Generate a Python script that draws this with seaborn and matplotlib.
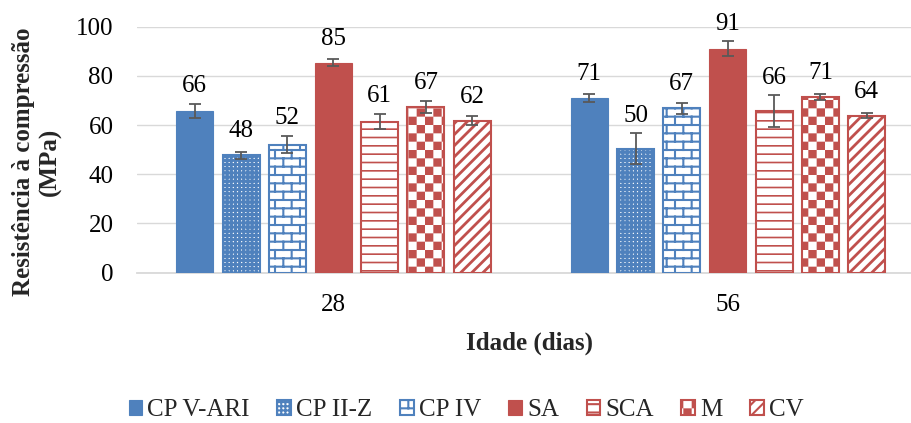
import warnings

import numpy as np
import pandas as pd
import matplotlib
matplotlib.use("Agg")
import matplotlib.pyplot as plt
import matplotlib.hatch as mhatch
from matplotlib.path import Path
import seaborn as sns

warnings.filterwarnings("ignore")

# ---- data -------------------------------------------------------------
idades = ["28", "56"]
materiais = ["CP V-ARI", "CP II-Z", "CP IV", "SA", "SCA", "M", "CV"]
res_28 = [65.7, 47.7, 52.0, 85.3, 61.4, 67.4, 61.8]
res_56 = [71.0, 50.4, 66.9, 91.0, 65.7, 71.4, 63.9]
dp_28 = [3.0, 1.5, 3.5, 1.4, 3.0, 2.5, 1.8]
dp_56 = [1.5, 6.2, 2.2, 3.0, 6.4, 1.2, 1.2]

# ---- styles -----------------------------------------------------------
AZUL = "#4F81BD"
VERMELHO = "#C0504D"
cores = [AZUL, AZUL, AZUL, VERMELHO, VERMELHO, VERMELHO, VERMELHO]
cheio = [True, False, False, True, False, False, False]
hachuras = [None, "++++", "b", None, "--", "c", "///"]
hatch_lw = [None, 2.1, 1.5, None, 1.2, 1.5, 2.0]
HATCH_LW = 1.5


# ---- extra hatch patterns: brick ("b") and checkerboard ("c") ---------
class BrickHatch(mhatch.HatchPatternBase):
    def __init__(self, hatch, density):
        n = hatch.count("b") * density
        self.rows = 2 * n
        self.cols = n
        if n:
            segs = sum(self.cols + 1 if r % 2 == 0 else self.cols
                       for r in range(self.rows))
            self.num_vertices = 2 * ((self.rows + 1) + segs)
        else:
            self.num_vertices = 0

    def set_vertices_and_codes(self, vertices, codes):
        segs = []
        for r in range(self.rows + 1):
            y = r / self.rows
            segs.append(((0.0, y), (1.0, y)))
        for r in range(self.rows):
            y0, y1 = r / self.rows, (r + 1) / self.rows
            if r % 2 == 0:
                xs = [c / self.cols for c in range(self.cols + 1)]
            else:
                xs = [(c + 0.5) / self.cols for c in range(self.cols)]
            for x in xs:
                segs.append(((x, y0), (x, y1)))
        vertices[:] = np.array(segs, dtype=float).reshape(-1, 2)
        codes[0::2] = Path.MOVETO
        codes[1::2] = Path.LINETO


class CheckerHatch(mhatch.HatchPatternBase):
    def __init__(self, hatch, density):
        n = hatch.count("c") * density
        self.cells = 2 * n
        self.squares = ([(i, j) for i in range(self.cells)
                         for j in range(self.cells) if (i + j) % 2 == 0]
                        if n else [])
        self.num_vertices = 5 * len(self.squares)

    def set_vertices_and_codes(self, vertices, codes):
        s = 1.0 / self.cells
        # the hatch outline stroke widens each square; pull the edges in
        inset = HATCH_LW / 72 / 2
        pts = []
        for i, j in self.squares:
            x0, y0 = i * s + inset, j * s + inset
            x1, y1 = (i + 1) * s - inset, (j + 1) * s - inset
            pts += [(x0, y0), (x1, y0), (x1, y1), (x0, y1), (x0, y0)]
        vertices[:] = np.array(pts, dtype=float)
        codes[:] = np.tile([Path.MOVETO, Path.LINETO, Path.LINETO,
                            Path.LINETO, Path.CLOSEPOLY], len(self.squares))


mhatch._hatch_types.extend([BrickHatch, CheckerHatch])

# ---- theme ------------------------------------------------------------
sns.set_style("white")
plt.rcParams["font.family"] = ["Liberation Serif", "DejaVu Serif"]
plt.rcParams["hatch.linewidth"] = HATCH_LW
FS = 18

df = pd.DataFrame({
    "Idade": np.repeat(idades, len(materiais)),
    "Material": materiais * len(idades),
    "Resistencia": res_28 + res_56,
})

fig = plt.figure(figsize=(9.11, 4.23), dpi=100)
ax = fig.add_axes([137 / 911, (423 - 272.7) / 423,
                   (911 - 137) / 911, (272.7 - 26.7) / 423])

sns.barplot(data=df, x="Idade", y="Resistencia", hue="Material",
            order=idades, hue_order=materiais, palette=cores,
            width=0.82, gap=0.2, errorbar=None, saturation=1,
            legend=False, ax=ax, zorder=3)

bar_conts = list(ax.containers)
erros = [dp_28, dp_56]
for i, cont in enumerate(bar_conts):
    for k, bar in enumerate(cont.patches):
        if cheio[i]:
            bar.set_facecolor(cores[i])
            bar.set_edgecolor(cores[i])
            bar.set_linewidth(0.8)
        else:
            bar.set_facecolor("white")
            bar.set_edgecolor(cores[i])
            bar.set_linewidth(1.5)
            bar.set_hatch(hachuras[i])
            if hasattr(bar, "set_hatch_linewidth"):
                bar.set_hatch_linewidth(hatch_lw[i])
        xc = bar.get_x() + bar.get_width() / 2
        h = bar.get_height()
        e = erros[k][i]
        ax.errorbar(xc, h, yerr=e, fmt="none", ecolor="#595959",
                    elinewidth=1.3, capsize=4.3, capthick=1.3, zorder=5)
        ax.text(xc, h + max(7.3, e + 4.8), f"{h:.0f}", ha="center",
                va="baseline", fontsize=FS, color="black", zorder=6)

ax.set_ylim(0, 100)
ax.set_yticks(range(0, 101, 20))
ax.set_xlim(-0.498, 1.464)
ax.yaxis.grid(True, color="#D9D9D9", linewidth=1.0, zorder=0)
ax.set_axisbelow(True)
for s in ("left", "right", "top"):
    ax.spines[s].set_visible(False)
ax.spines["bottom"].set_color("#D9D9D9")
ax.spines["bottom"].set_linewidth(1.3)
ax.tick_params(axis="y", length=0, pad=17, labelsize=FS, labelcolor="black")
ax.tick_params(axis="x", length=0, pad=15, labelsize=FS, labelcolor="black")

ax.set_xlabel("Idade (dias)", fontsize=FS, fontweight="bold", va="center")
ax.xaxis.set_label_coords((530 - 137) / 774, (272.7 - 343) / 246)
ax.set_ylabel("Resistência à compressão\n(MPa)", fontsize=FS,
              fontweight="bold", va="center", linespacing=1.2)
ax.yaxis.set_label_coords(-(137 - 37) / 774, 0.45)

handles = [c.patches[0] for c in bar_conts]
fig.legend(handles, materiais, loc="center",
           bbox_to_anchor=(466 / 911, 1 - 410 / 423),
           ncol=7, frameon=False, fontsize=FS,
           handlelength=0.55, handleheight=0.55,
           handletextpad=0.2, columnspacing=1.1)

fig.savefig("out.png", dpi=100)
